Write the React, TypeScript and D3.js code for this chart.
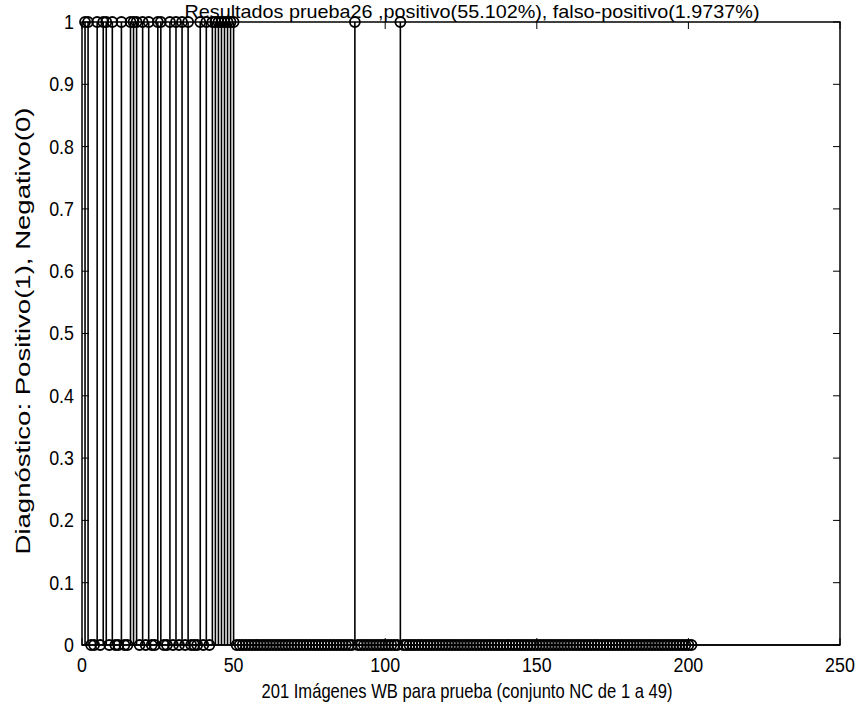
import * as d3 from "d3";

// image indices 1..201 ; NC set is 1..49
const totalImages = 201;
const truePositives = [1, 2, 5, 7, 8, 10, 13, 16, 17, 18, 20, 22, 25, 26, 29, 31, 33, 35, 39, 41, 43, 44, 45, 46, 47, 48, 49];
const falsePositives = [50, 90, 105];
const xTicks = [0, 50, 100, 150, 200, 250];
const yTicks = [0, 0.1, 0.2, 0.3, 0.4, 0.5, 0.6, 0.7, 0.8, 0.9, 1];

const titleText = "Resultados prueba26 ,positivo(55.102%), falso-positivo(1.9737%)";
const xLabel = "201 Imágenes WB para prueba (conjunto NC de 1 a 49)";
const yLabel = "Diagnóstico: Positivo(1), Negativo(0)";

const ones = new Set([...truePositives, ...falsePositives]);
const data = d3.range(1, totalImages + 1).map((i) => ({ i, v: ones.has(i) ? 1 : 0 }));

const W = 860;
const H = 710;
const m = { left: 82, right: 20, top: 22, bottom: 65 };
const font = "'Liberation Sans', Arial, sans-serif";

export default function App() {
  const x = d3.scaleLinear().domain([0, 250]).range([m.left, W - m.right]);
  const y = d3.scaleLinear().domain([0, 1]).range([H - m.bottom, m.top]);
  const tk = 7;

  // draw zeros first so stems of ones stay visible
  const sorted = [...data].sort((a, b) => a.v - b.v);

  return (
    <svg width={W} height={H} style={{ position: "absolute", left: 0, top: 0, background: "#fff" }} fontFamily={font}>
      <rect x={0} y={0} width={W} height={H} fill="#fff" />
      {/* baseline */}
      <line x1={x(0)} x2={x(250)} y1={y(0)} y2={y(0)} stroke="#000" strokeWidth={1.5} />
      {sorted.map((d) => (
        <g key={d.i}>
          {d.v > 0 && <line x1={x(d.i)} x2={x(d.i)} y1={y(0)} y2={y(d.v)} stroke="#000" strokeWidth={1.6} />}
          <circle cx={x(d.i)} cy={y(d.v)} r={5} fill="none" stroke="#000" strokeWidth={1.8} />
        </g>
      ))}
      {/* box */}
      <rect x={x(0)} y={y(1)} width={x(250) - x(0)} height={y(0) - y(1)} fill="none" stroke="#000" strokeWidth={1.5} />
      {xTicks.map((t) => (
        <g key={"x" + t}>
          <line x1={x(t)} x2={x(t)} y1={y(0)} y2={y(0) - tk} stroke="#000" />
          <line x1={x(t)} x2={x(t)} y1={y(1)} y2={y(1) + tk} stroke="#000" />
          <text x={x(t)} y={y(0) + 27} textAnchor="middle" fontSize={21} transform={`translate(${x(t)},0) scale(0.85,1) translate(${-x(t)},0)`}>
            {t}
          </text>
        </g>
      ))}
      {yTicks.map((t) => (
        <g key={"y" + t}>
          <line x1={x(0)} x2={x(0) + tk} y1={y(t)} y2={y(t)} stroke="#000" />
          <line x1={x(250)} x2={x(250) - tk} y1={y(t)} y2={y(t)} stroke="#000" />
          <text x={x(0) - 8} y={y(t) + 7} textAnchor="end" fontSize={21} transform={`translate(${x(0) - 8},0) scale(0.85,1) translate(${-(x(0) - 8)},0)`}>
            {d3.format("~g")(t)}
          </text>
        </g>
      ))}
      <text x={472} y={18} textAnchor="middle" fontSize={19} textLength={575} lengthAdjust="spacingAndGlyphs">
        {titleText}
      </text>
      <text x={467} y={698} textAnchor="middle" fontSize={21} textLength={411} lengthAdjust="spacingAndGlyphs">
        {xLabel}
      </text>
      <text
        transform={`translate(30,331) rotate(-90)`}
        textAnchor="middle"
        fontSize={21}
        textLength={447}
        lengthAdjust="spacingAndGlyphs"
      >
        {yLabel}
      </text>
    </svg>
  );
}
